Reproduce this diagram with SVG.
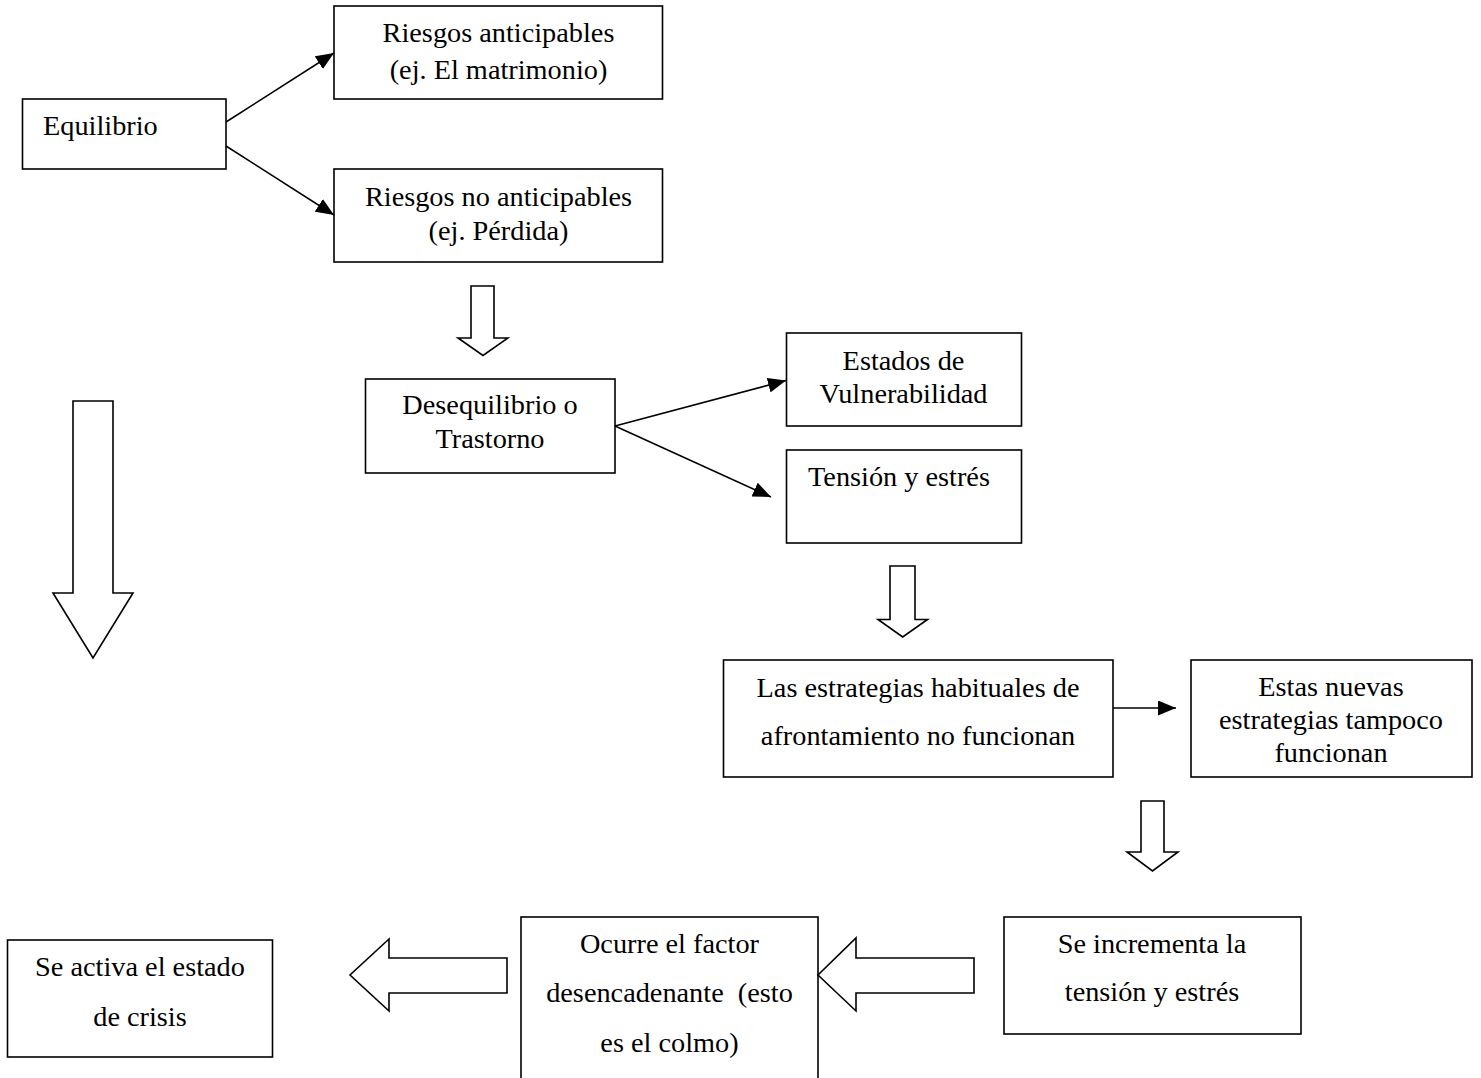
<svg xmlns="http://www.w3.org/2000/svg" width="1481" height="1078" viewBox="0 0 1481 1078">
<style>
.box{fill:#fff;stroke:#000;stroke-width:1.6}
.t{font-family:"Liberation Serif","Times New Roman",serif;font-size:28.3px;fill:#000}
.c{text-anchor:middle}
.ln{fill:none;stroke:#000;stroke-width:1.6}
.blk{fill:#fff;stroke:#000;stroke-width:1.6;stroke-linejoin:miter}
</style>
<defs>
<marker id="ah" markerUnits="userSpaceOnUse" markerWidth="18" markerHeight="15" refX="18" refY="7.5" orient="auto">
<path d="M0,0 L18,7.5 L0,15 z" fill="#000"/>
</marker>
</defs>
<rect width="1481" height="1078" fill="#fff"/>

<g id="equilibrio">
<rect class="box" x="22.5" y="99" width="203.5" height="70"/>
<text class="t" x="43" y="135">Equilibrio</text>
</g>
<g id="riesgos-anticipables">
<rect class="box" x="334" y="6" width="328.5" height="93"/>
<text class="t c" x="498.5" y="42">Riesgos anticipables</text>
<text class="t c" x="498.5" y="79">(ej. El matrimonio)</text>
</g>
<g id="riesgos-no-anticipables">
<rect class="box" x="334" y="169" width="328.5" height="93"/>
<text class="t c" x="498.5" y="206">Riesgos no anticipables</text>
<text class="t c" x="498.5" y="240">(ej. Pérdida)</text>
</g>
<g id="desequilibrio">
<rect class="box" x="365.5" y="379" width="249.5" height="94"/>
<text class="t c" x="490" y="414">Desequilibrio o</text>
<text class="t c" x="490" y="448">Trastorno</text>
</g>
<g id="estados-vulnerabilidad">
<rect class="box" x="786.5" y="333" width="235" height="93"/>
<text class="t c" x="903.5" y="370">Estados de</text>
<text class="t c" x="903.5" y="403">Vulnerabilidad</text>
</g>
<g id="tension-estres">
<rect class="box" x="786.5" y="450" width="235" height="93"/>
<text class="t c" x="899" y="486">Tensión y estrés</text>
</g>
<g id="estrategias-habituales">
<rect class="box" x="723.5" y="660" width="389.5" height="117"/>
<text class="t c" x="918" y="697">Las estrategias habituales de</text>
<text class="t c" x="918" y="745">afrontamiento no funcionan</text>
</g>
<g id="nuevas-estrategias">
<rect class="box" x="1191" y="660" width="281" height="117"/>
<text class="t c" x="1331" y="696">Estas nuevas</text>
<text class="t c" x="1331" y="729">estrategias tampoco</text>
<text class="t c" x="1331" y="762">funcionan</text>
</g>
<g id="incrementa-tension">
<rect class="box" x="1004" y="917" width="297" height="117"/>
<text class="t c" x="1152" y="953">Se incrementa la</text>
<text class="t c" x="1152" y="1001">tensión y estrés</text>
</g>
<g id="factor-desencadenante">
<rect class="box" x="521" y="917" width="297" height="170"/>
<text class="t c" x="669.5" y="953">Ocurre el factor</text>
<text class="t c" x="669.5" y="1002" xml:space="preserve">desencadenante  (esto</text>
<text class="t c" x="669.5" y="1052">es el colmo)</text>
</g>
<g id="estado-crisis">
<rect class="box" x="7.5" y="940" width="265" height="117"/>
<text class="t c" x="140" y="976">Se activa el estado</text>
<text class="t c" x="140" y="1026">de crisis</text>
</g>

<g id="connectors">
<line class="ln" x1="226" y1="122" x2="334" y2="53" marker-end="url(#ah)"/>
<line class="ln" x1="226" y1="146" x2="334" y2="215" marker-end="url(#ah)"/>
<line class="ln" x1="615" y1="426" x2="786" y2="380.5" marker-end="url(#ah)"/>
<line class="ln" x1="615" y1="426" x2="771" y2="497" marker-end="url(#ah)"/>
<line class="ln" x1="1113" y1="708" x2="1176" y2="708" marker-end="url(#ah)"/>
<polygon class="blk" points="471,286 494,286 494,338 508,338 483,355.5 458,338 471,338"/>
<polygon class="blk" points="890,566 915,566 915,619.5 927.5,619.5 902.7,637 878,619.5 890,619.5"/>
<polygon class="blk" points="1141,801 1164,801 1164,852 1178,852 1152.5,871 1127,852 1141,852"/>
<polygon class="blk" points="73,401 113,401 113,593 133,593 93,658 53,593 73,593"/>
<polygon class="blk" points="974,958 856,958 856,938 818,975 856,1011 856,993 974,993"/>
<polygon class="blk" points="507,958 389,958 389,939 350,975 389,1011 389,993 507,993"/>
</g>
</svg>
